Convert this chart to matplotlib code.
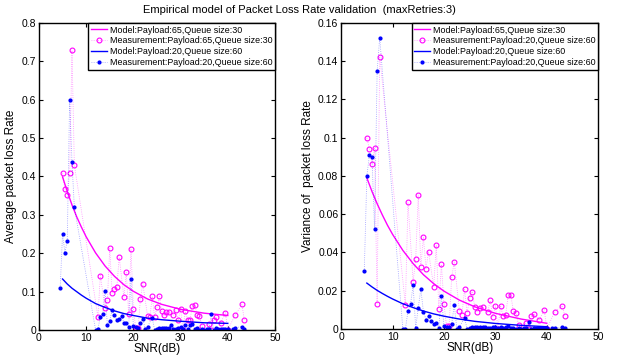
import matplotlib
matplotlib.use("Agg")
import matplotlib.pyplot as plt
import numpy as np

plt.rcParams['font.family'] = ['Liberation Sans', 'DejaVu Sans']

# ---- left panel: average packet loss rate ----
mean_m65_x = [5, 5.5, 6, 6.5, 7, 7.5, 12.5, 13, 14, 14.5, 15, 15.5, 16, 16.5, 17, 18, 18.5, 19, 19.5, 20,
              20.5, 21, 21.5, 22, 23, 23.5, 24, 24.5, 25, 25.5, 26, 26.5, 27, 27.5, 28.5, 29, 29.5, 30, 30.5,
              31, 31.5, 32, 32.5, 33, 33.5, 34, 34.5, 36, 36.5, 37, 37.5, 38.5, 39.5, 40, 41.5, 43, 43.5]
mean_m65_y = [0.408, 0.367, 0.352, 0.408, 0.729, 0.430, 0.034, 0.142, 0.058, 0.079, 0.213, 0.096, 0.108, 0.112,
              0.190, 0.085, 0.150, 0.041, 0.211, 0.055, 0.005, 0.005, 0.082, 0.121, 0.037, 0.033, 0.088, 0.033,
              0.059, 0.088, 0.049, 0.038, 0.046, 0.048, 0.038, 0.051, 0.026, 0.056, 0.0, 0.049, 0.027, 0.027,
              0.063, 0.066, 0.040, 0.037, 0.010, 0.015, 0.001, 0.026, 0.033, 0.019, 0.045, 0.0, 0.038, 0.067, 0.026]

mean_m20_x = [4.5, 5, 5.5, 6, 6.5, 7, 7.5, 12, 12.5, 13, 13.5, 14, 14.5, 15, 15.5, 16, 16.5, 17, 17.5, 18, 18.5,
              19, 19.5, 20, 20.5, 21, 21.5, 22, 22.5, 23, 24, 24.5, 25, 25.5, 26, 26.5, 27, 27.5, 28, 28.5, 29,
              29.5, 30, 30.5, 31, 31.5, 32, 32.5, 33, 33.5, 34, 34.5, 35, 35.5, 36, 36.5, 37, 37.5, 38, 38.5, 39,
              39.5, 40, 41, 41.5, 43, 43.5]
mean_m20_y = [0.110, 0.250, 0.202, 0.232, 0.600, 0.437, 0.320, 0.0, 0.003, 0.035, 0.041, 0.103, 0.012, 0.023,
              0.053, 0.040, 0.026, 0.030, 0.037, 0.018, 0.018, 0.008, 0.132, 0.011, 0.009, 0.005, 0.018, 0.030,
              0.003, 0.009, 0.032, 0.0, 0.004, 0.006, 0.006, 0.006, 0.006, 0.006, 0.012, 0.003, 0.004, 0.006,
              0.008, 0.003, 0.012, 0.002, 0.013, 0.016, 0.002, 0.005, 0.001, 0.003, 0.0, 0.002, 0.003, 0.041,
              0.001, 0.005, 0.002, 0.003, 0.004, 0.004, 0.003, 0.002, 0.006, 0.009, 0.004]

# ---- right panel: variance of packet loss rate ----
var_m65_x = [5, 5.5, 6, 6.5, 7, 7.5, 12.5, 13, 14, 14.5, 15, 15.5, 16, 16.5, 17, 18, 18.5, 19, 19.5, 20,
             20.5, 21, 21.5, 22, 23, 23.5, 24, 24.5, 25, 25.5, 26, 26.5, 27, 27.5, 28.5, 29, 29.5, 30, 30.5,
             31, 31.5, 32, 32.5, 33, 33.5, 34, 34.5, 36, 36.5, 37, 37.5, 38.5, 39.5, 40, 41.5, 43, 43.5]
var_m65_y = [0.0999, 0.0940, 0.0864, 0.0945, 0.0131, 0.1424, 0.0124, 0.0662, 0.0247, 0.0364, 0.0702, 0.0326,
             0.0480, 0.0316, 0.0404, 0.0221, 0.0439, 0.0107, 0.0338, 0.0130, 0.0014, 0.0014, 0.0272, 0.0350,
             0.0094, 0.0075, 0.0207, 0.0084, 0.0162, 0.0196, 0.0113, 0.0089, 0.0110, 0.0113, 0.0087, 0.0149,
             0.0063, 0.0122, 0.0, 0.0122, 0.0066, 0.0071, 0.0179, 0.0178, 0.0092, 0.0084, 0.0021, 0.0030, 0.0,
             0.0066, 0.0080, 0.0045, 0.0101, 0.0, 0.0089, 0.0122, 0.0066]

var_m20_x = mean_m20_x
var_m20_y = [0.0301, 0.0800, 0.0908, 0.0897, 0.0525, 0.1347, 0.1523, 0.0, 0.0, 0.0094, 0.0131, 0.0228, 0.0007,
             0.0111, 0.0209, 0.0091, 0.0049, 0.0070, 0.0040, 0.0026, 0.0033, 0.0007, 0.0174, 0.0014, 0.0010,
             0.0012, 0.0026, 0.0125, 0.0002, 0.0010, 0.0058, 0.0, 0.0005, 0.0008, 0.0008, 0.0008, 0.0008, 0.0008,
             0.0012, 0.0004, 0.0006, 0.0008, 0.0010, 0.0004, 0.0012, 0.0003, 0.0012, 0.0014, 0.0003, 0.0006,
             0.0002, 0.0004, 0.0, 0.0003, 0.0004, 0.0037, 0.0002, 0.0006, 0.0003, 0.0004, 0.0005, 0.0005, 0.0004,
             0.0003, 0.0007, 0.0008, 0.0005]

# ---- model curves ----
model_x = [5, 6, 7, 8, 9, 10, 12, 14, 16, 18, 20, 23, 26, 30, 35, 40]
mean_model65 = [0.399, 0.361, 0.326, 0.295, 0.268, 0.243, 0.201, 0.167, 0.140, 0.118, 0.101, 0.081, 0.067,
                0.054, 0.044, 0.038]
mean_model20 = [0.133, 0.120, 0.109, 0.100, 0.091, 0.083, 0.069, 0.059, 0.050, 0.043, 0.038, 0.031, 0.027,
                0.023, 0.019, 0.0175]
var_model65 = [0.0790, 0.0719, 0.0655, 0.0597, 0.0543, 0.0495, 0.0411, 0.0342, 0.0284, 0.0237, 0.0198, 0.0151,
               0.0116, 0.0082, 0.0052, 0.0030]
var_model20 = [0.0240, 0.0220, 0.0202, 0.0186, 0.0171, 0.0157, 0.0132, 0.0112, 0.0094, 0.0079, 0.0067, 0.0052,
               0.0040, 0.0029, 0.0019, 0.0012]

MAG = '#ff00ff'
BLU = '#0000ff'
MAG_LIGHT = (1.0, 0.0, 1.0, 0.45)
BLU_LIGHT = (0.0, 0.0, 1.0, 0.4)
FS = 7.5

fig = plt.figure(figsize=(6.18, 3.58), dpi=100)
ax1 = fig.add_axes([0.063, 0.078, 0.382, 0.858])
ax2 = fig.add_axes([0.552, 0.081, 0.416, 0.855])


def panel(ax, model_a, meas_ax, meas_ay, model_b, meas_bx, meas_by, labels, ylim, yticks, ylabel):
    ax.plot(model_x, model_a, color=MAG, lw=1.0, label=labels[0])
    ax.plot(meas_ax, meas_ay, color=MAG_LIGHT, ls=':', lw=0.6, marker='o', ms=3.5, mfc='none', mec=MAG,
            mew=0.8, label=labels[1])
    ax.plot(model_x, model_b, color=BLU, lw=1.0, label=labels[2])
    ax.plot(meas_bx, meas_by, color=BLU_LIGHT, ls=':', lw=0.6, marker='.', ms=4, mec=BLU, mfc=BLU,
            label=labels[3])
    ax.set_xlim(0, 50)
    ax.set_ylim(*ylim)
    ax.set_xticks([0, 10, 20, 30, 40, 50])
    ax.set_yticks(yticks)
    ax.set_yticklabels(['0'] + ['%g' % t for t in yticks[1:]])
    ax.tick_params(direction='in', top=True, right=True, labelsize=FS, length=3, width=0.8, pad=2)
    for s in ax.spines.values():
        s.set_linewidth(1.0)
    ax.set_xlabel('SNR(dB)', fontsize=FS + 1, labelpad=0)
    ax.set_ylabel(ylabel, fontsize=FS + 1, labelpad=3)
    leg = ax.legend(loc='upper right', fontsize=6.4, frameon=True, fancybox=False, borderaxespad=0,
                    labelspacing=0.2, borderpad=0.3, handlelength=1.8, handletextpad=0.3)
    leg.get_frame().set_edgecolor('black')
    leg.get_frame().set_linewidth(1.0)
    leg.get_frame().set_alpha(1)


panel(ax1, mean_model65, mean_m65_x, mean_m65_y, mean_model20, mean_m20_x, mean_m20_y,
      ['Model:Payload:65,Queue size:30', 'Measurement:Payload:65,Queue size:30',
       'Model:Payload:20,Queue size:60', 'Measurement:Payload:20,Queue size:60'],
      (0, 0.8), [0, 0.1, 0.2, 0.3, 0.4, 0.5, 0.6, 0.7, 0.8], 'Average packet loss Rate')

panel(ax2, var_model65, var_m65_x, var_m65_y, var_model20, var_m20_x, var_m20_y,
      ['Model:Payload:65,Queue size:30', 'Measurement:Payload:20,Queue size:60',
       'Model:Payload:20,Queue size:60', 'Measurement:Payload:20,Queue size:60'],
      (0, 0.16), [0, 0.02, 0.04, 0.06, 0.08, 0.1, 0.12, 0.14, 0.16], 'Variance of  packet loss Rate')

fig.text(0.484, 0.972, 'Empirical model of Packet Loss Rate validation  (maxRetries:3)',
         ha='center', va='center', fontsize=FS + 0.5)

fig.savefig('out.png', dpi=100)
